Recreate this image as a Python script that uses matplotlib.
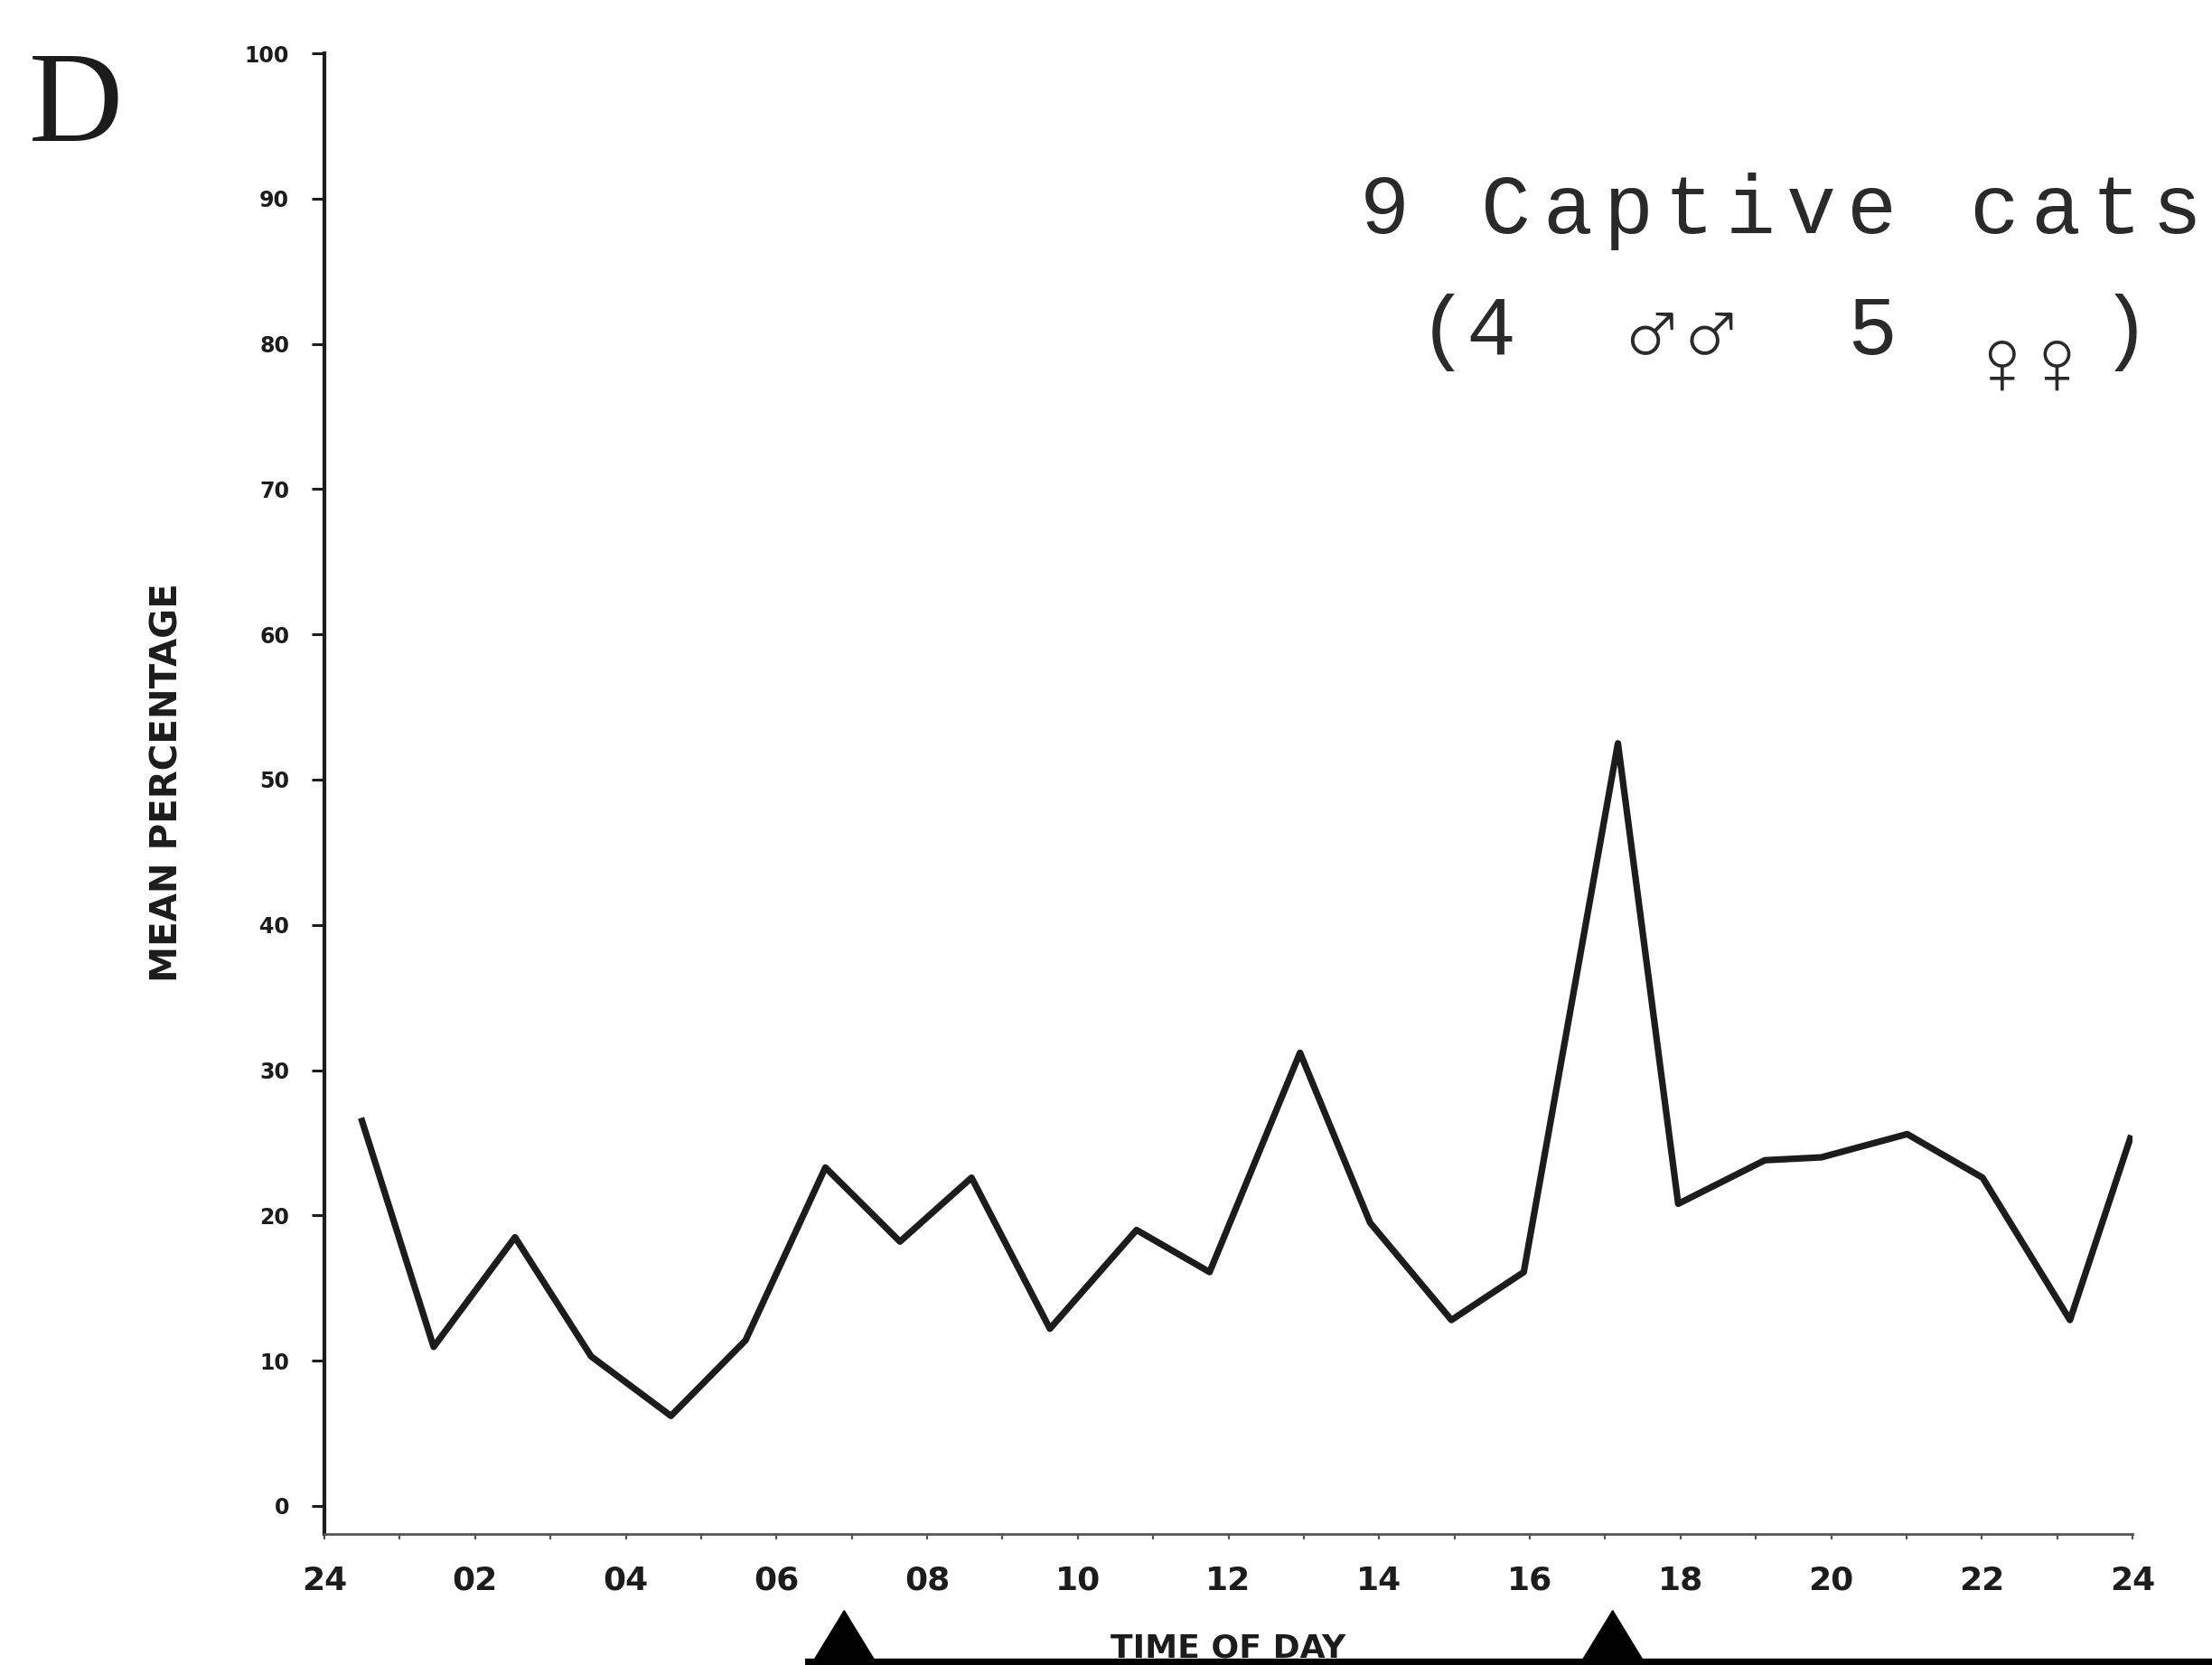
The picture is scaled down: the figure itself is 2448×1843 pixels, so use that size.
import matplotlib
matplotlib.use("Agg")
import matplotlib.pyplot as plt

W, H = 2448, 1843

# mean percentage of cats active, by time of day (hours)
hours = [0.50, 1.45, 2.53, 3.54, 4.60, 5.59, 6.65, 7.64, 8.59, 9.63, 10.78, 11.75,
         12.95, 13.88, 14.96, 15.92, 17.17, 17.97, 19.12, 19.87, 21.01, 22.01, 23.17, 23.97]
mean_pct = [26.5, 10.95, 18.5, 10.3, 6.2, 11.4, 23.3, 18.2, 22.6, 12.2, 19.0, 16.1,
            31.2, 19.5, 12.8, 16.1, 52.5, 20.8, 23.8, 24.0, 25.6, 22.6, 12.8, 25.3]

y_ticks = list(range(0, 101, 10))
x_ticks = list(range(0, 25, 2))
x_labels = ["24", "02", "04", "06", "08", "10", "12", "14", "16", "18", "20", "22", "24"]

# sunrise / sunset markers and the bar under the time axis
sun_marks = [6.9, 17.1]
bar_start = 6.38

ink = "#1c1c1c"

fig = plt.figure(figsize=(W / 100, H / 100), dpi=100)
fig.patch.set_facecolor("white")
ax = fig.add_axes([359 / W, (H - 1698) / H, 2001 / W, (1698 - 59) / H])

ax.plot(hours, mean_pct, color=ink, lw=5.2, solid_joinstyle="round", zorder=3)

ax.set_xlim(0, 24)
ax.set_ylim(-1.93, 100)
for s in ["top", "right"]:
    ax.spines[s].set_visible(False)
ax.spines["left"].set_linewidth(3)
ax.spines["left"].set_color(ink)
ax.spines["bottom"].set_linewidth(2)
ax.spines["bottom"].set_color("#555555")

ax.set_yticks(y_ticks)
ax.set_yticklabels([str(v) for v in y_ticks])
ax.tick_params(axis="y", direction="out", length=10, width=2.2, color=ink,
               pad=18, labelsize=17, labelcolor=ink)
for t in ax.get_yticklabels():
    t.set_fontweight("bold")

ax.set_xticks(x_ticks)
ax.set_xticklabels(x_labels)
ax.set_xticks(range(0, 25), minor=True)
ax.tick_params(axis="x", which="both", direction="out", length=4, width=1.6,
               color="#555555", pad=21, labelsize=26, labelcolor=ink)
for t in ax.get_xticklabels():
    t.set_fontweight("bold")

# day bar with sun markers below the axis
bar_y = -10.77
ax.plot([bar_start, 26], [bar_y, bar_y], color="black", lw=6, solid_capstyle="butt",
        clip_on=False, zorder=5)
for h in sun_marks:
    ax.fill([h - 0.42, h, h + 0.42], [bar_y, -7.2, bar_y], color="black",
            clip_on=False, zorder=5)
ax.text(12.0, -10.45, "TIME OF DAY", ha="center", va="baseline", fontsize=26,
        fontweight="bold", color=ink, clip_on=False, zorder=4)

# panel letter and axis title
fig.text(84 / W, 1 - 156 / H, "D", ha="center", va="baseline", fontsize=104,
         family="Liberation Serif", color=ink)
fig.text(186 / W, 1 - 866 / H, "MEAN PERCENTAGE", rotation=90, ha="center",
         va="center", fontsize=29, fontweight="bold", color=ink)

# typewritten caption
mono = ["Liberation Mono", "DejaVu Sans"]
line1 = "9 Captive cats"
for i, ch in enumerate(line1):
    fig.text((1532 + i * 67.5) / W, 1 - 258 / H, ch, ha="center", va="baseline",
             fontsize=66, family=mono, color="#2a2a2a")
line2 = [("(", 1597, 392, 66), ("4", 1650, 392, 66), ("5", 2072, 392, 66),
         (")", 2352, 392, 66),
         ("\u2642\u2642", 1862, 398, 80), ("\u2640\u2640", 2246, 436, 74)]
for s, x, y, fs in line2:
    fig.text(x / W, 1 - y / H, s, ha="center", va="baseline",
             fontsize=fs, family=mono, color="#2a2a2a")

fig.savefig("out.png", dpi=100)
